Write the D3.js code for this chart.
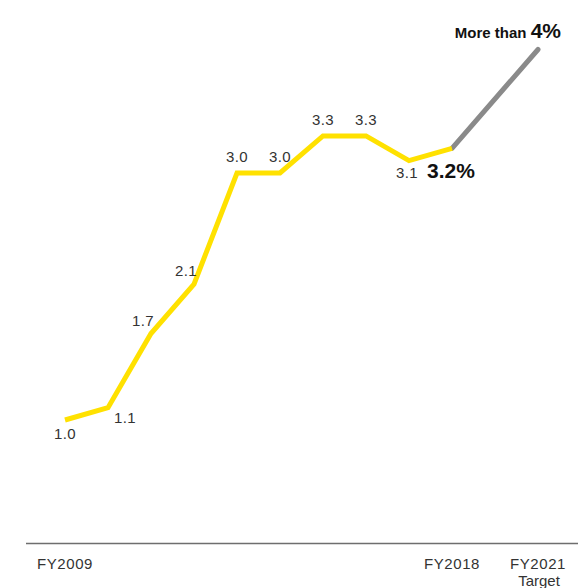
<!DOCTYPE html>
<html><head><meta charset="utf-8">
<script src="https://cdn.jsdelivr.net/npm/d3@7"></script>
<style>body{margin:0;background:#fff}svg{display:block}text{font-family:"Liberation Sans",Arial,sans-serif}</style>
</head><body><div id="chart"></div>
<script>
const years = ["FY2009","FY2010","FY2011","FY2012","FY2013","FY2014","FY2015","FY2016","FY2017","FY2018"];
const values = [1.0,1.1,1.7,2.1,3.0,3.0,3.3,3.3,3.1,3.2];
const valueLabels = ["1.0","1.1","1.7","2.1","3.0","3.0","3.3","3.3","3.1","3.2%"];
const labelPlace = ["below","belowRight","aboveLeft","aboveLeft","above","above","above","above","belowLeft","bigRight"];
const targetYear = "FY2021";
const targetValue = 4.0;
const targetLabel = ["More than ","4%"];
const tickLabels = ["FY2009","FY2018","FY2021"];
const targetSub = "Target";

const W=578,H=588;
const svg=d3.select("#chart").append("svg").attr("width",W).attr("height",H);
const pos = years.map((d,i)=>i).concat([11]);
const allYears = years.concat([targetYear]);
const x=d3.scaleLinear().domain([0,11]).range([65,538]);
const y=d3.scaleLinear().domain([0,4]).range([543.5,49.5]);
const xOf = yr => x(pos[allYears.indexOf(yr)]);

// baseline axis
svg.append("line").attr("x1",26).attr("x2",W).attr("y1",y(0)).attr("y2",y(0))
  .attr("stroke","#6e6e6e").attr("stroke-width",1.5);
svg.selectAll(".tick").data(tickLabels).join("text")
  .attr("x",d=>xOf(d)).attr("y",569).attr("text-anchor","middle")
  .attr("font-size",15).attr("letter-spacing",0.6).attr("fill","#333").text(d=>d);
svg.append("text").attr("x",xOf(targetYear)+1).attr("y",586).attr("text-anchor","middle")
  .attr("font-size",15).attr("fill","#333").text(targetSub);

// target line
svg.append("path").attr("d",d3.line()([[x(9),y(values[9])],[x(11),y(targetValue)]]))
  .attr("stroke","#8a8a8a").attr("stroke-width",5).attr("stroke-linecap","round").attr("fill","none");

// actual line
const line=d3.line().x((d,i)=>x(i)).y(d=>y(d));
svg.append("path").datum(values).attr("d",line)
  .attr("stroke","#FFE100").attr("stroke-width",5).attr("stroke-linejoin","miter").attr("fill","none");

const off = {below:[0,19,"middle"],belowRight:[17,15,"middle"],aboveLeft:[-8,-8,"middle"],above:[0,-11,"middle"],belowLeft:[-2,17,"middle"],bigRight:[-25,30,"start"]};
values.forEach((v,i)=>{
  const o=off[labelPlace[i]];
  const t=svg.append("text").attr("x",x(i)+o[0]).attr("y",y(v)+o[1]).attr("text-anchor",o[2])
    .attr("fill","#333").text(valueLabels[i]);
  if(labelPlace[i]==="bigRight") t.attr("font-size",21).attr("font-weight","bold").attr("fill","#111");
  else t.attr("font-size",15).attr("letter-spacing",0.4);
});

const tl=svg.append("text").attr("x",561).attr("y",38).attr("text-anchor","end").attr("fill","#111").attr("font-weight","bold");
tl.append("tspan").attr("font-size",15).text(targetLabel[0]);
tl.append("tspan").attr("font-size",21).text(targetLabel[1]);
</script></body></html>
